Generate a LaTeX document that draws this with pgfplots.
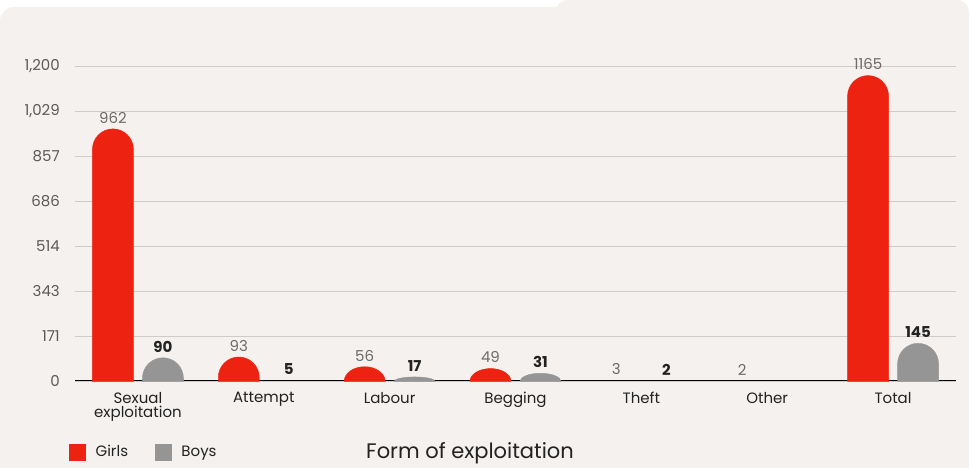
\documentclass[border=0pt]{standalone}
\usepackage{fontspec}
\setmainfont{Poppins}
\usepackage{pgfplots}
\usepackage{pgfplotstable}
\pgfplotsset{compat=1.18}

\definecolor{girlred}{RGB}{238,34,16}
\definecolor{boygray}{RGB}{149,149,149}
\definecolor{cardbg}{RGB}{245,241,238}
\definecolor{gridgray}{RGB}{204,204,204}
\definecolor{ticktext}{RGB}{90,90,90}
\definecolor{valtext}{RGB}{108,108,108}
\definecolor{darktext}{RGB}{34,34,34}

\pgfplotstableread{
x y
0 962
1 93
2 56
3 49
4 3
5 2
6 1165
}\girls
% Other: no boys (0), not shown
\pgfplotstableread{
x y
0 90
1 5
2 17
3 31
4 2
6 145
}\boys

\pgfdeclareplotmark{empty}{}
\newcommand\ysc{0.2625}% pt per unit: 315pt for 1200

\pgfplotsset{
  /pgf/number format/1000 sep={},
  /pgf/number format/assume math mode=true,
  % bar hung from its data point: round top, its height caps the curve
  % (bars under 1.5pt vanish, as in the source)
  roundbar/.style 2 args={%
    only marks, mark=empty, point meta=y,
    visualization depends on={rawy \as \rawy},
    nodes near coords={\pgfmathsetmacro\barh{\rawy*\ysc}%
      \pgfmathsetmacro\barr{min(20.5,\barh)}%
      \ifdim\barh pt<1.5pt\else
      \tikz\fill[#1] (0pt,0pt) -- (0pt,{\barh pt-\barr pt})
        arc[start angle=180, end angle=0, x radius=20.5pt, y radius=\barr pt]
        -- (41pt,0pt) -- cycle;\fi},
    every node near coord/.append style={anchor=north, inner sep=0pt, xshift=#2},
    legend image code/.code={\fill[#1] (0pt,-8pt) rectangle (16pt,8pt);},
  },
  barlabel/.style 2 args={%
    only marks, mark=empty, point meta=y, forget plot,
    nodes near coords,
    every node near coord/.append style={anchor=south, inner sep=0pt,
      yshift=5pt, xshift=#1, font=\fontsize{15}{18}\selectfont, #2},
  },
}

\begin{document}
\begin{tikzpicture}
\useasboundingbox (0,0) rectangle (969pt,468pt);
\begin{scope}
  \clip (0,0) rectangle (969pt,468pt);
  \fill[white] (0,0) rectangle (969pt,468pt);
  \fill[cardbg, rounded corners=12pt] (553pt,400pt) -- (556pt,468pt) -- (969pt,468pt) -- (969pt,400pt) -- cycle;
  \fill[cardbg, rounded corners=14pt] (0,-30pt) rectangle (969pt,461pt);
\end{scope}
\begin{axis}[
  at={(75pt,87pt)}, anchor=south west,
  scale only axis, width=881pt, height=315pt,
  xmin=-0.5, xmax=6.5, ymin=0, ymax=1200,
  enlargelimits=false,
  axis x line*=bottom, axis y line*=left,
  x axis line style={-, black, line width=1pt},
  y axis line style={draw=none},
  tick style={draw=none},
  xtick={0,...,6},
  xticklabels={{Sexual\\exploitation},Attempt,Labour,Begging,Theft,Other,Total},
  xticklabel style={align=center, anchor=north, inner sep=0pt, yshift=-11pt,
    font=\fontsize{15}{14.5}\selectfont, text=darktext},
  ytick={0,171.43,342.86,514.29,685.71,857.14,1028.57,1200},
  yticklabels={0,171,343,514,686,857,{1,029},{1,200}},
  yticklabel style={anchor=east, inner sep=0pt, xshift=-15pt,
    font=\fontsize{15}{18}\selectfont, text=ticktext},
  ymajorgrids, grid style={gridgray, line width=0.8pt},
  xlabel={Form of exploitation},
  xlabel style={at={(axis description cs:0.4484,-0.2476)}, anchor=base,
    inner sep=0pt, font=\fontsize{21}{24}\selectfont, text=darktext},
  legend columns=2,
  legend style={at={(axis description cs:-0.0068,-0.2254)}, anchor=west,
    draw=none, fill=none, inner sep=0pt, text=darktext,
    font=\fontsize{15}{18}\selectfont, nodes={inner sep=0pt},
    /tikz/every odd column/.style={column sep=10pt},
    /tikz/every even column/.style={column sep=27pt}},
]
\addplot[roundbar={girlred}{-25pt}] table {\girls};
\addlegendentry{Girls}
\addplot[roundbar={boygray}{25pt}] table {\boys};
\addlegendentry{Boys}
\addplot[barlabel={-25pt}{text=valtext}] table {\girls};
\addplot[barlabel={25pt}{text=darktext, font=\fontsize{15}{18}\selectfont\bfseries}] table {\boys};
\end{axis}
\end{tikzpicture}
\end{document}
